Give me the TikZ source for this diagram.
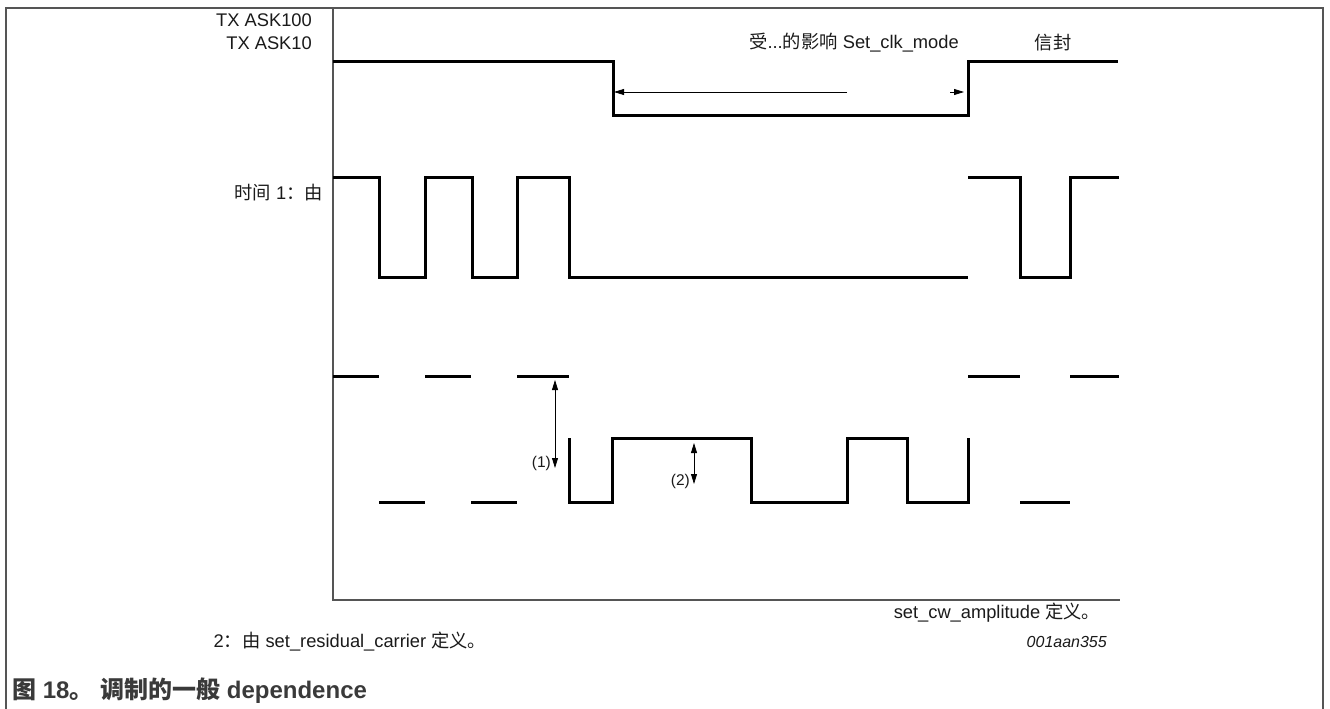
\documentclass[tikz,border=0pt]{standalone}
\usepackage{fontspec}
\setmainfont{Liberation Sans}
\newfontfamily\cjk{Noto Sans CJK SC}
\usetikzlibrary{arrows.meta}
\definecolor{framegray}{HTML}{555555}
\definecolor{textgray}{HTML}{1A1A1A}
\definecolor{capgray}{HTML}{3A3A3A}

\tikzset{
  wave/.style={line width=3pt},
  axis/.style={framegray, line width=1.6pt},
  span/.style={line width=0.8pt, -{Triangle[length=10pt,width=6pt]}},
  dim/.style={line width=0.8pt, {Triangle[length=10pt,width=6pt]}-{Triangle[length=10pt,width=6pt]}},
  lbl/.style={font=\fontsize{18.3}{21}\selectfont, text=textgray, inner sep=0pt},
  small/.style={font=\fontsize{15.5}{18}\selectfont, text=textgray, inner sep=0pt},
}

\begin{document}
\begin{tikzpicture}[x=1pt,y=-1pt]
    \useasboundingbox (0,0) rectangle (1330,709);

    % Frame and axes
    \draw[framegray, line width=1.5pt] (6,709) -- (6,8) -- (1323,8) -- (1323,709);
    \draw[axis] (333,8) -- (333,600) -- (1120,600);

    % TX ASK signal
    \draw[wave] (333,62) -- (613,62) -- (613,115) -- (968,115) -- (968,62) -- (1118,62);

    % Clock signal
    \draw[wave] (333,177) -- (379,177) -- (379,277) -- (425,277) -- (425,177) -- (472,177)
      -- (472,277) -- (517,277) -- (517,177) -- (569,177) -- (569,277) -- (968,277);
    \draw[wave] (968,177) -- (1020,177) -- (1020,277) -- (1070,277) -- (1070,177) -- (1119,177);

    % Modulated signal
    \foreach \xa/\xb in {333/379, 425/471, 517/569, 968/1020, 1070/1119}
      \draw[wave] (\xa,376) -- (\xb,376);
    \foreach \xa/\xb in {379/425, 471/517, 1020/1070}
      \draw[wave] (\xa,502) -- (\xb,502);
    \draw[wave] (569,438) -- (569,502) -- (612,502) -- (612,438) -- (751,438) -- (751,502)
      -- (847,502) -- (847,438) -- (907,438) -- (907,502) -- (968,502) -- (968,438);

    % Define the arrow ends
    \coordinate (modeM) at (847,92);
    \coordinate (modeL) at (614,92);
    \coordinate (modeS) at (950,92);
    \coordinate (modeR) at (964,92);
    \coordinate (oneT) at (555,380);
    \coordinate (oneB) at (555,468);
    \coordinate (twoT) at (694,443);
    \coordinate (twoB) at (694,484);

    % Draw the arrows
    \draw[span] (modeM) -- (modeL);
    \draw[span] (modeS) -- (modeR);
    \draw[dim] (oneT) -- (oneB);
    \draw[dim] (twoT) -- (twoB);

    % Label the signals
    \node[lbl, anchor=east] (ask100) at (312,20) {TX ASK100};
    \node[lbl, anchor=east] (ask10) at (312,43) {TX ASK10};
    \node[lbl] (mode) at (854,43) {{\cjk 受}...{\cjk 的影响} Set\_clk\_mode};
    \node[lbl] (env) at (1053,43) {\cjk 信封};
    \node[lbl, anchor=east] (time) at (323,193) {{\cjk 时间} 1{\cjk ：由}};
    \node[small, anchor=east] (one) at (551,463) {(1)};
    \node[small, anchor=east] (two) at (690,481) {(2)};

    % Notes and caption
    \node[lbl] (cw) at (997,613) {set\_cw\_amplitude {\cjk 定义。}};
    \node[lbl, anchor=east, font=\fontsize{16}{19}\selectfont\itshape] (id) at (1107,642) {001aan355};
    \node[lbl] (resid) at (350,642) {2{\cjk ：由} set\_residual\_carrier {\cjk 定义。}};
    \node[lbl, anchor=west, text=capgray, font=\fontsize{24}{28}\selectfont\bfseries] (caption) at (12,691)
      {{\cjk 图} 18{\cjk 。} {\cjk 调制的一般} dependence};

\end{tikzpicture}
\end{document}
